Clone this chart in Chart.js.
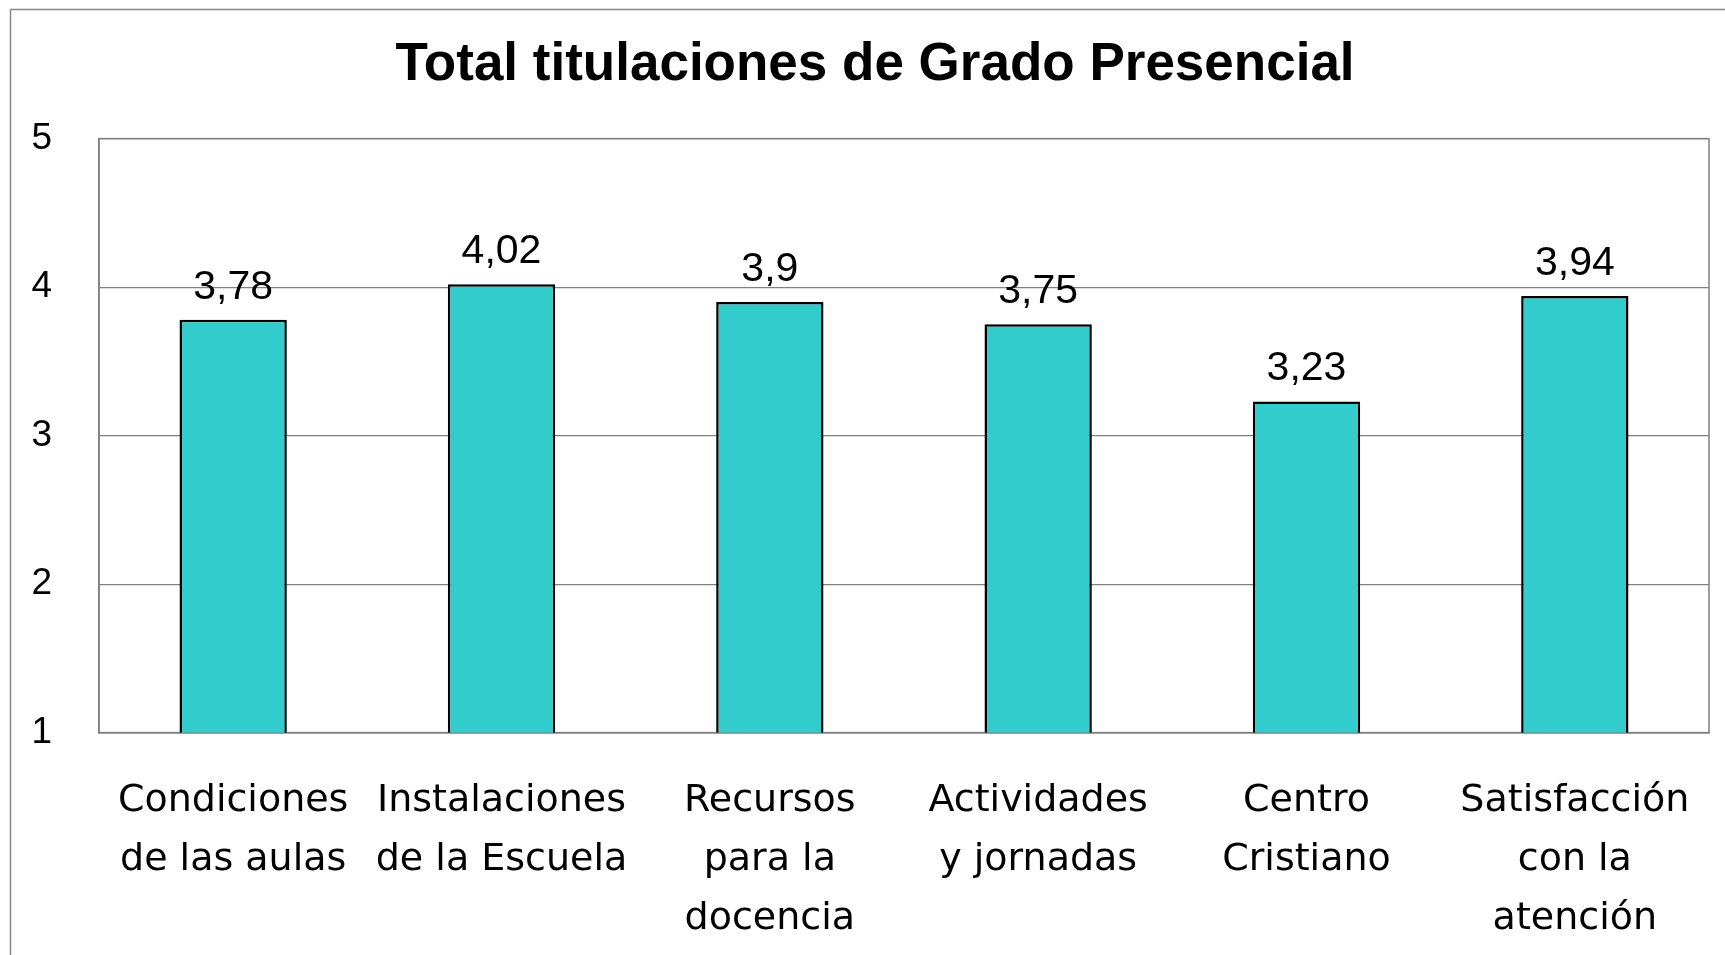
<!DOCTYPE html>
<html>
<head>
<meta charset="utf-8">
<script src="https://cdn.jsdelivr.net/npm/chart.js@4"></script>
<style>
html,body{margin:0;padding:0;background:#fff;}
canvas{display:block;}
</style>
</head>
<body>
<canvas id="c" width="1725" height="955"></canvas>
<script>
const chartTitle = "Total titulaciones de Grado Presencial";
const categories = [
  ["Condiciones", "de las aulas"],
  ["Instalaciones", "de la Escuela"],
  ["Recursos", "para la", "docencia"],
  ["Actividades", "y jornadas"],
  ["Centro", "Cristiano"],
  ["Satisfacción", "con la", "atención"]
];
const values = [3.78, 4.02, 3.9, 3.75, 3.23, 3.94];
const yTicks = [1, 2, 3, 4, 5];

const frameAndLabels = {
  id: 'frameAndLabels',
  beforeDraw(chart) {
    const ctx = chart.ctx;
    ctx.save();
    ctx.fillStyle = '#fff';
    ctx.fillRect(0, 0, chart.width, chart.height);
    ctx.strokeStyle = '#888888';
    ctx.lineWidth = 1.5;
    ctx.strokeRect(10.5, 9.5, chart.width + 20, chart.height + 20);
    ctx.restore();
  },
  beforeDatasetsDraw(chart) {
    const a = chart.chartArea;
    const ctx = chart.ctx;
    ctx.save();
    ctx.strokeStyle = '#808080';
    ctx.lineWidth = 1.5;
    ctx.strokeRect(a.left, a.top, a.right - a.left, a.bottom - a.top);
    ctx.restore();
  },
  afterDatasetsDraw(chart) {
    const ctx = chart.ctx;
    const meta = chart.getDatasetMeta(0);
    ctx.save();
    ctx.fillStyle = '#000';
    ctx.font = '41px "Liberation Sans", Arial, sans-serif';
    ctx.textAlign = 'center';
    ctx.textBaseline = 'alphabetic';
    meta.data.forEach((el, i) => {
      const txt = String(values[i]).replace('.', ',');
      ctx.fillText(txt, el.x, el.y - 21);
    });
    ctx.restore();
  }
};

new Chart(document.getElementById('c'), {
  type: 'bar',
  data: {
    labels: categories,
    datasets: [{
      data: values,
      backgroundColor: '#33CCCC',
      borderColor: '#000000',
      borderWidth: 2.5,
      barPercentage: 0.4,
      categoryPercentage: 1.0
    }]
  },
  options: {
    responsive: false,
    animation: false,
    layout: { padding: { left: 26, right: 1, top: 0, bottom: 0 } },
    plugins: {
      legend: { display: false },
      tooltip: { enabled: false },
      title: {
        display: true,
        text: chartTitle,
        color: '#000',
        font: { family: '"Liberation Sans", Arial, sans-serif', size: 53, weight: 'bold', lineHeight: 1.2 },
        padding: { top: 34, bottom: 41 }
      }
    },
    scales: {
      x: {
        grid: { display: false, drawTicks: false },
        border: { display: true, color: '#808080', width: 1.5 },
        afterFit(scale) {
          scale.height = 222.4;
          scale.paddingLeft = 0;
          scale.paddingRight = 0;
        },
        ticks: {
          autoSkip: false,
          maxRotation: 0,
          minRotation: 0,
          padding: 39,
          color: '#000',
          font: { family: '"DejaVu Sans", sans-serif', size: 38, lineHeight: 1.55 }
        }
      },
      y: {
        min: 1,
        max: 5,
        afterFit(scale) {
          scale.width = 73;
          scale.paddingTop = 0;
          scale.paddingBottom = 0;
        },
        afterBuildTicks(scale) { scale.ticks = yTicks.map(v => ({ value: v })); },
        grid: { color: '#808080', lineWidth: 1.2, drawTicks: false },
        border: { display: true, color: '#808080', width: 1.5 },
        ticks: {
          padding: 47,
          color: '#000',
          font: { family: '"Liberation Sans", Arial, sans-serif', size: 37 }
        }
      },
      yRightSpace: {
        type: 'linear',
        position: 'right',
        display: true,
        afterFit(scale) {
          scale.width = 15;
          scale.paddingTop = 0;
          scale.paddingBottom = 0;
        },
        grid: { display: false, drawTicks: false },
        border: { display: false },
        ticks: { display: false }
      }
    }
  },
  plugins: [frameAndLabels]
});
</script>
</body>
</html>
